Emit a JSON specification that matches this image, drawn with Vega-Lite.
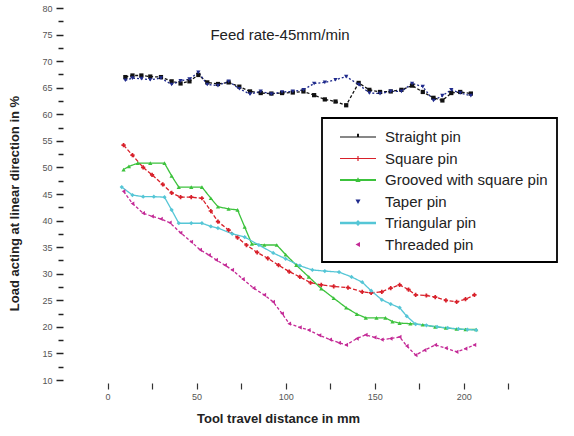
{
  "$schema": "https://vega.github.io/schema/vega-lite/v6.json",
  "width": 472,
  "height": 372,
  "autosize": {"type": "none"},
  "padding": {"left": 63, "top": 8, "right": 39, "bottom": 56},
  "background": "white",
  "config": {
    "view": {"stroke": null},
    "font": "Liberation Sans",
    "legend": {
      "orient": "none",
      "legendX": 259,
      "legendY": 110,
      "strokeColor": "black",
      "strokeWidth": 1.8,
      "padding": 9,
      "labelFont": "Liberation Sans",
      "labelFontSize": 15,
      "labelColor": "#222222",
      "labelOffset": 34,
      "labelLimit": 300,
      "symbolSize": 400,
      "symbolStrokeWidth": 0,
      "symbolOpacity": 1,
      "rowPadding": 3.5
    }
  },
  "title": {
    "text": "Feed rate-45mm/min",
    "anchor": "middle",
    "frame": "group",
    "offset": 0,
    "baseline": "bottom",
    "dx": -19,
    "dy": 54,
    "fontSize": 15,
    "fontWeight": "normal",
    "color": "#222222"
  },
  "data": {
    "values": [
      {"pin": "Straight pin", "x": 10, "y": 67.0}, {"pin": "Straight pin", "x": 14, "y": 67.3}, {"pin": "Straight pin", "x": 19, "y": 67.3}, {"pin": "Straight pin", "x": 24, "y": 67.1}, {"pin": "Straight pin", "x": 30, "y": 67.0}, {"pin": "Straight pin", "x": 36, "y": 66.2}, {"pin": "Straight pin", "x": 41, "y": 65.8}, {"pin": "Straight pin", "x": 46, "y": 66.2}, {"pin": "Straight pin", "x": 51, "y": 67.4}, {"pin": "Straight pin", "x": 56, "y": 66.0}, {"pin": "Straight pin", "x": 62, "y": 65.7}, {"pin": "Straight pin", "x": 68, "y": 66.0}, {"pin": "Straight pin", "x": 74, "y": 65.2}, {"pin": "Straight pin", "x": 80, "y": 64.3}, {"pin": "Straight pin", "x": 86, "y": 64.0}, {"pin": "Straight pin", "x": 92, "y": 63.9}, {"pin": "Straight pin", "x": 98, "y": 64.0}, {"pin": "Straight pin", "x": 104, "y": 64.1}, {"pin": "Straight pin", "x": 110, "y": 64.3}, {"pin": "Straight pin", "x": 116, "y": 63.6}, {"pin": "Straight pin", "x": 122, "y": 62.8}, {"pin": "Straight pin", "x": 128, "y": 62.4}, {"pin": "Straight pin", "x": 134, "y": 61.7}, {"pin": "Straight pin", "x": 141, "y": 65.9}, {"pin": "Straight pin", "x": 147, "y": 64.6}, {"pin": "Straight pin", "x": 153, "y": 64.2}, {"pin": "Straight pin", "x": 159, "y": 64.3}, {"pin": "Straight pin", "x": 165, "y": 64.6}, {"pin": "Straight pin", "x": 171, "y": 65.4}, {"pin": "Straight pin", "x": 177, "y": 64.2}, {"pin": "Straight pin", "x": 183, "y": 63.1}, {"pin": "Straight pin", "x": 188, "y": 62.6}, {"pin": "Straight pin", "x": 193, "y": 64.0}, {"pin": "Straight pin", "x": 198, "y": 64.2}, {"pin": "Straight pin", "x": 204, "y": 63.9},
      {"pin": "Square pin", "x": 9, "y": 54.2}, {"pin": "Square pin", "x": 14, "y": 52.3}, {"pin": "Square pin", "x": 20, "y": 50.0}, {"pin": "Square pin", "x": 25, "y": 48.6}, {"pin": "Square pin", "x": 31, "y": 46.8}, {"pin": "Square pin", "x": 36, "y": 45.2}, {"pin": "Square pin", "x": 41, "y": 44.4}, {"pin": "Square pin", "x": 47, "y": 44.4}, {"pin": "Square pin", "x": 53, "y": 44.2}, {"pin": "Square pin", "x": 58, "y": 41.8}, {"pin": "Square pin", "x": 62, "y": 39.8}, {"pin": "Square pin", "x": 68, "y": 38.2}, {"pin": "Square pin", "x": 73, "y": 36.8}, {"pin": "Square pin", "x": 78, "y": 35.4}, {"pin": "Square pin", "x": 84, "y": 34.0}, {"pin": "Square pin", "x": 90, "y": 32.9}, {"pin": "Square pin", "x": 96, "y": 31.6}, {"pin": "Square pin", "x": 102, "y": 30.4}, {"pin": "Square pin", "x": 108, "y": 29.4}, {"pin": "Square pin", "x": 114, "y": 28.3}, {"pin": "Square pin", "x": 120, "y": 27.9}, {"pin": "Square pin", "x": 127, "y": 27.6}, {"pin": "Square pin", "x": 135, "y": 27.4}, {"pin": "Square pin", "x": 143, "y": 26.6}, {"pin": "Square pin", "x": 148, "y": 26.4}, {"pin": "Square pin", "x": 154, "y": 26.6}, {"pin": "Square pin", "x": 159, "y": 27.3}, {"pin": "Square pin", "x": 164, "y": 27.9}, {"pin": "Square pin", "x": 169, "y": 27.0}, {"pin": "Square pin", "x": 173, "y": 26.0}, {"pin": "Square pin", "x": 179, "y": 25.9}, {"pin": "Square pin", "x": 184, "y": 25.6}, {"pin": "Square pin", "x": 190, "y": 25.0}, {"pin": "Square pin", "x": 196, "y": 24.7}, {"pin": "Square pin", "x": 201, "y": 25.2}, {"pin": "Square pin", "x": 206, "y": 26.0},
      {"pin": "Grooved with square pin", "x": 9, "y": 49.6}, {"pin": "Grooved with square pin", "x": 12, "y": 50.2}, {"pin": "Grooved with square pin", "x": 17, "y": 50.8}, {"pin": "Grooved with square pin", "x": 24, "y": 50.8}, {"pin": "Grooved with square pin", "x": 32, "y": 50.8}, {"pin": "Grooved with square pin", "x": 36, "y": 48.4}, {"pin": "Grooved with square pin", "x": 40, "y": 46.3}, {"pin": "Grooved with square pin", "x": 47, "y": 46.3}, {"pin": "Grooved with square pin", "x": 53, "y": 46.3}, {"pin": "Grooved with square pin", "x": 58, "y": 44.2}, {"pin": "Grooved with square pin", "x": 62, "y": 42.6}, {"pin": "Grooved with square pin", "x": 68, "y": 42.2}, {"pin": "Grooved with square pin", "x": 73, "y": 42.0}, {"pin": "Grooved with square pin", "x": 77, "y": 38.8}, {"pin": "Grooved with square pin", "x": 81, "y": 35.6}, {"pin": "Grooved with square pin", "x": 88, "y": 35.4}, {"pin": "Grooved with square pin", "x": 95, "y": 35.4}, {"pin": "Grooved with square pin", "x": 100, "y": 33.6}, {"pin": "Grooved with square pin", "x": 106, "y": 31.6}, {"pin": "Grooved with square pin", "x": 113, "y": 29.4}, {"pin": "Grooved with square pin", "x": 120, "y": 27.2}, {"pin": "Grooved with square pin", "x": 127, "y": 25.4}, {"pin": "Grooved with square pin", "x": 134, "y": 23.6}, {"pin": "Grooved with square pin", "x": 140, "y": 22.4}, {"pin": "Grooved with square pin", "x": 145, "y": 21.7}, {"pin": "Grooved with square pin", "x": 151, "y": 21.7}, {"pin": "Grooved with square pin", "x": 156, "y": 21.7}, {"pin": "Grooved with square pin", "x": 160, "y": 21.0}, {"pin": "Grooved with square pin", "x": 164, "y": 20.7}, {"pin": "Grooved with square pin", "x": 170, "y": 20.6}, {"pin": "Grooved with square pin", "x": 177, "y": 20.4}, {"pin": "Grooved with square pin", "x": 184, "y": 20.0}, {"pin": "Grooved with square pin", "x": 190, "y": 19.8}, {"pin": "Grooved with square pin", "x": 196, "y": 19.6}, {"pin": "Grooved with square pin", "x": 201, "y": 19.5}, {"pin": "Grooved with square pin", "x": 207, "y": 19.5},
      {"pin": "Taper pin", "x": 10, "y": 66.4}, {"pin": "Taper pin", "x": 14, "y": 66.8}, {"pin": "Taper pin", "x": 19, "y": 66.7}, {"pin": "Taper pin", "x": 24, "y": 66.5}, {"pin": "Taper pin", "x": 30, "y": 66.8}, {"pin": "Taper pin", "x": 36, "y": 65.6}, {"pin": "Taper pin", "x": 41, "y": 66.3}, {"pin": "Taper pin", "x": 46, "y": 66.6}, {"pin": "Taper pin", "x": 51, "y": 67.9}, {"pin": "Taper pin", "x": 56, "y": 65.6}, {"pin": "Taper pin", "x": 62, "y": 65.4}, {"pin": "Taper pin", "x": 68, "y": 66.2}, {"pin": "Taper pin", "x": 74, "y": 64.8}, {"pin": "Taper pin", "x": 80, "y": 63.8}, {"pin": "Taper pin", "x": 86, "y": 64.3}, {"pin": "Taper pin", "x": 92, "y": 63.8}, {"pin": "Taper pin", "x": 98, "y": 64.2}, {"pin": "Taper pin", "x": 104, "y": 64.3}, {"pin": "Taper pin", "x": 110, "y": 64.6}, {"pin": "Taper pin", "x": 116, "y": 65.8}, {"pin": "Taper pin", "x": 122, "y": 66.0}, {"pin": "Taper pin", "x": 128, "y": 66.5}, {"pin": "Taper pin", "x": 134, "y": 67.1}, {"pin": "Taper pin", "x": 141, "y": 65.6}, {"pin": "Taper pin", "x": 147, "y": 64.0}, {"pin": "Taper pin", "x": 153, "y": 63.9}, {"pin": "Taper pin", "x": 159, "y": 64.3}, {"pin": "Taper pin", "x": 165, "y": 64.3}, {"pin": "Taper pin", "x": 171, "y": 65.8}, {"pin": "Taper pin", "x": 177, "y": 65.2}, {"pin": "Taper pin", "x": 183, "y": 62.6}, {"pin": "Taper pin", "x": 188, "y": 63.5}, {"pin": "Taper pin", "x": 193, "y": 64.6}, {"pin": "Taper pin", "x": 198, "y": 64.0}, {"pin": "Taper pin", "x": 204, "y": 63.5},
      {"pin": "Triangular pin", "x": 8, "y": 46.3}, {"pin": "Triangular pin", "x": 14, "y": 44.8}, {"pin": "Triangular pin", "x": 20, "y": 44.5}, {"pin": "Triangular pin", "x": 26, "y": 44.5}, {"pin": "Triangular pin", "x": 32, "y": 44.4}, {"pin": "Triangular pin", "x": 36, "y": 42.0}, {"pin": "Triangular pin", "x": 40, "y": 39.5}, {"pin": "Triangular pin", "x": 47, "y": 39.5}, {"pin": "Triangular pin", "x": 53, "y": 39.5}, {"pin": "Triangular pin", "x": 58, "y": 38.9}, {"pin": "Triangular pin", "x": 62, "y": 38.6}, {"pin": "Triangular pin", "x": 70, "y": 37.5}, {"pin": "Triangular pin", "x": 77, "y": 36.9}, {"pin": "Triangular pin", "x": 85, "y": 35.4}, {"pin": "Triangular pin", "x": 93, "y": 33.9}, {"pin": "Triangular pin", "x": 100, "y": 32.8}, {"pin": "Triangular pin", "x": 108, "y": 31.5}, {"pin": "Triangular pin", "x": 115, "y": 30.7}, {"pin": "Triangular pin", "x": 122, "y": 30.5}, {"pin": "Triangular pin", "x": 130, "y": 30.3}, {"pin": "Triangular pin", "x": 137, "y": 29.4}, {"pin": "Triangular pin", "x": 143, "y": 28.4}, {"pin": "Triangular pin", "x": 148, "y": 26.8}, {"pin": "Triangular pin", "x": 154, "y": 25.1}, {"pin": "Triangular pin", "x": 159, "y": 24.3}, {"pin": "Triangular pin", "x": 164, "y": 23.6}, {"pin": "Triangular pin", "x": 168, "y": 22.0}, {"pin": "Triangular pin", "x": 173, "y": 20.5}, {"pin": "Triangular pin", "x": 179, "y": 20.3}, {"pin": "Triangular pin", "x": 185, "y": 20.0}, {"pin": "Triangular pin", "x": 191, "y": 19.8}, {"pin": "Triangular pin", "x": 197, "y": 19.6}, {"pin": "Triangular pin", "x": 202, "y": 19.5}, {"pin": "Triangular pin", "x": 207, "y": 19.4},
      {"pin": "Threaded pin", "x": 9, "y": 45.5}, {"pin": "Threaded pin", "x": 14, "y": 43.2}, {"pin": "Threaded pin", "x": 20, "y": 41.4}, {"pin": "Threaded pin", "x": 25, "y": 40.8}, {"pin": "Threaded pin", "x": 30, "y": 40.3}, {"pin": "Threaded pin", "x": 35, "y": 39.6}, {"pin": "Threaded pin", "x": 41, "y": 37.7}, {"pin": "Threaded pin", "x": 47, "y": 36.0}, {"pin": "Threaded pin", "x": 52, "y": 34.5}, {"pin": "Threaded pin", "x": 57, "y": 33.5}, {"pin": "Threaded pin", "x": 61, "y": 32.6}, {"pin": "Threaded pin", "x": 66, "y": 31.6}, {"pin": "Threaded pin", "x": 70, "y": 30.7}, {"pin": "Threaded pin", "x": 76, "y": 29.0}, {"pin": "Threaded pin", "x": 82, "y": 27.3}, {"pin": "Threaded pin", "x": 88, "y": 26.0}, {"pin": "Threaded pin", "x": 93, "y": 24.7}, {"pin": "Threaded pin", "x": 98, "y": 22.5}, {"pin": "Threaded pin", "x": 102, "y": 20.6}, {"pin": "Threaded pin", "x": 108, "y": 19.9}, {"pin": "Threaded pin", "x": 113, "y": 19.4}, {"pin": "Threaded pin", "x": 119, "y": 18.4}, {"pin": "Threaded pin", "x": 125, "y": 17.6}, {"pin": "Threaded pin", "x": 130, "y": 17.0}, {"pin": "Threaded pin", "x": 134, "y": 16.6}, {"pin": "Threaded pin", "x": 140, "y": 17.8}, {"pin": "Threaded pin", "x": 145, "y": 18.5}, {"pin": "Threaded pin", "x": 150, "y": 18.0}, {"pin": "Threaded pin", "x": 154, "y": 17.6}, {"pin": "Threaded pin", "x": 159, "y": 17.8}, {"pin": "Threaded pin", "x": 164, "y": 18.1}, {"pin": "Threaded pin", "x": 168, "y": 16.4}, {"pin": "Threaded pin", "x": 173, "y": 14.7}, {"pin": "Threaded pin", "x": 178, "y": 15.6}, {"pin": "Threaded pin", "x": 184, "y": 16.6}, {"pin": "Threaded pin", "x": 190, "y": 16.0}, {"pin": "Threaded pin", "x": 196, "y": 15.3}, {"pin": "Threaded pin", "x": 201, "y": 15.9}, {"pin": "Threaded pin", "x": 206, "y": 16.6}
    ]
  },
  "encoding": {
    "x": {
      "field": "x", "type": "quantitative",
      "scale": {"domain": [-25, 240], "nice": false, "zero": false},
      "axis": {
        "orient": "bottom",
        "values": [0, 25, 50, 75, 100, 125, 150, 175, 200, 225],
        "labelExpr": "datum.value % 50 === 0 ? datum.label : ''",
        "domain": false, "grid": false, "offset": 3,
        "tickSize": 6, "tickColor": "#333333", "tickWidth": 1.2,
        "labelPadding": 3, "labelFontSize": 9, "labelColor": "#555555",
        "title": "Tool travel distance in mm",
        "titleFontSize": 13, "titleFontWeight": "bold", "titleColor": "#222222",
        "titlePadding": 11, "titleX": 215, "titleAnchor": "middle"
      }
    }
  },
  "layer": [
    {
      "mark": {"type": "line"},
      "encoding": {
        "y": {
          "field": "y", "type": "quantitative",
          "scale": {"domain": [10, 80], "nice": false, "zero": false},
          "axis": {
            "orient": "left",
            "values": [10, 15, 20, 25, 30, 35, 40, 45, 50, 55, 60, 65, 70, 75, 80],
            "domain": false, "grid": false,
            "tickSize": 7, "tickColor": "#222222", "tickWidth": 1.5,
            "labelPadding": 4, "labelFontSize": 9, "labelColor": "#555555",
            "title": "Load acting at linear direction in %",
            "titleFontSize": 13, "titleFontWeight": "bold", "titleColor": "#222222",
            "titlePadding": 20, "titleY": 195
          }
        },
        "color": {
          "field": "pin", "type": "nominal",
          "scale": {
            "domain": ["Straight pin", "Square pin", "Grooved with square pin", "Taper pin", "Triangular pin", "Threaded pin"],
            "range": ["#111111", "#d8202a", "#3cc23c", "#1f2a8c", "#55c6d6", "#c42a96"]
          },
          "legend": null
        },
        "strokeDash": {
          "field": "pin", "type": "nominal",
          "scale": {
            "domain": ["Straight pin", "Square pin", "Grooved with square pin", "Taper pin", "Triangular pin", "Threaded pin"],
            "range": [[3, 2], [4, 2], [1, 0], [2, 2], [1, 0], [3, 2]]
          },
          "legend": null
        },
        "strokeWidth": {
          "field": "pin", "type": "nominal",
          "scale": {
            "domain": ["Straight pin", "Square pin", "Grooved with square pin", "Taper pin", "Triangular pin", "Threaded pin"],
            "range": [1.3, 1.3, 2.6, 1.2, 3.5, 1.3]
          },
          "legend": null
        }
      }
    },
    {
      "mark": {"type": "point", "filled": true, "opacity": 1},
      "encoding": {
        "y": {
          "field": "y", "type": "quantitative",
          "axis": {
            "orient": "left",
            "values": [12.5, 17.5, 22.5, 27.5, 32.5, 37.5, 42.5, 47.5, 52.5, 57.5, 62.5, 67.5, 72.5, 77.5],
            "labels": false, "domain": false, "grid": false, "title": null,
            "tickSize": 5, "tickColor": "#222222", "tickWidth": 1.5
          }
        },
        "color": {
          "field": "pin", "type": "nominal",
          "scale": {
            "domain": ["Straight pin", "Square pin", "Grooved with square pin", "Taper pin", "Triangular pin", "Threaded pin"],
            "range": ["#111111", "#d8202a", "#3cc23c", "#1f2a8c", "#55c6d6", "#c42a96"]
          },
          "legend": null
        },
        "shape": {
          "field": "pin", "type": "nominal",
          "scale": {
            "domain": ["Straight pin", "Square pin", "Grooved with square pin", "Taper pin", "Triangular pin", "Threaded pin"],
            "range": ["square", "cross", "triangle-up", "triangle-down", "diamond", "triangle-left"]
          },
          "legend": null
        },
        "size": {"value": 18}
      }
    },
    {
      "mark": {"type": "point", "filled": true, "opacity": 0},
      "encoding": {
        "y": {"field": "y", "type": "quantitative", "axis": null},
        "color": {
          "field": "pin", "type": "nominal",
          "scale": {
            "domain": ["Straight pin", "Square pin", "Grooved with square pin", "Taper pin", "Triangular pin", "Threaded pin"],
            "range": ["#111111", "#d8202a", "#3cc23c", "#1f2a8c", "#55c6d6", "#c42a96"]
          },
          "legend": {"title": null, "symbolOpacity": 1}
        },
        "shape": {
          "field": "pin", "type": "nominal",
          "scale": {
            "domain": ["Straight pin", "Square pin", "Grooved with square pin", "Taper pin", "Triangular pin", "Threaded pin"],
            "range": [
              "M-0.1,-0.06H3.5V0.06H-0.1Z M1.6,-0.32H1.8V0.06H1.6Z",
              "M-0.1,-0.06H3.5V0.06H-0.1Z M1.64,-0.25H1.76V0.25H1.64Z",
              "M-0.1,-0.1H3.5V0.1H-0.1Z M1.7,-0.28L1.96,0.2H1.44Z",
              "M1.45,-0.2H1.95L1.7,0.25Z",
              "M-0.1,-0.13H3.5V0.13H-0.1Z M1.7,-0.3L2.0,0L1.7,0.3L1.4,0Z",
              "M1.9,-0.25V0.25L1.45,0Z"
            ]
          },
          "legend": {"title": null, "symbolOpacity": 1}
        }
      }
    }
  ],
  "resolve": {"scale": {"color": "independent", "shape": "independent"}, "axis": {"y": "independent"}}
}
